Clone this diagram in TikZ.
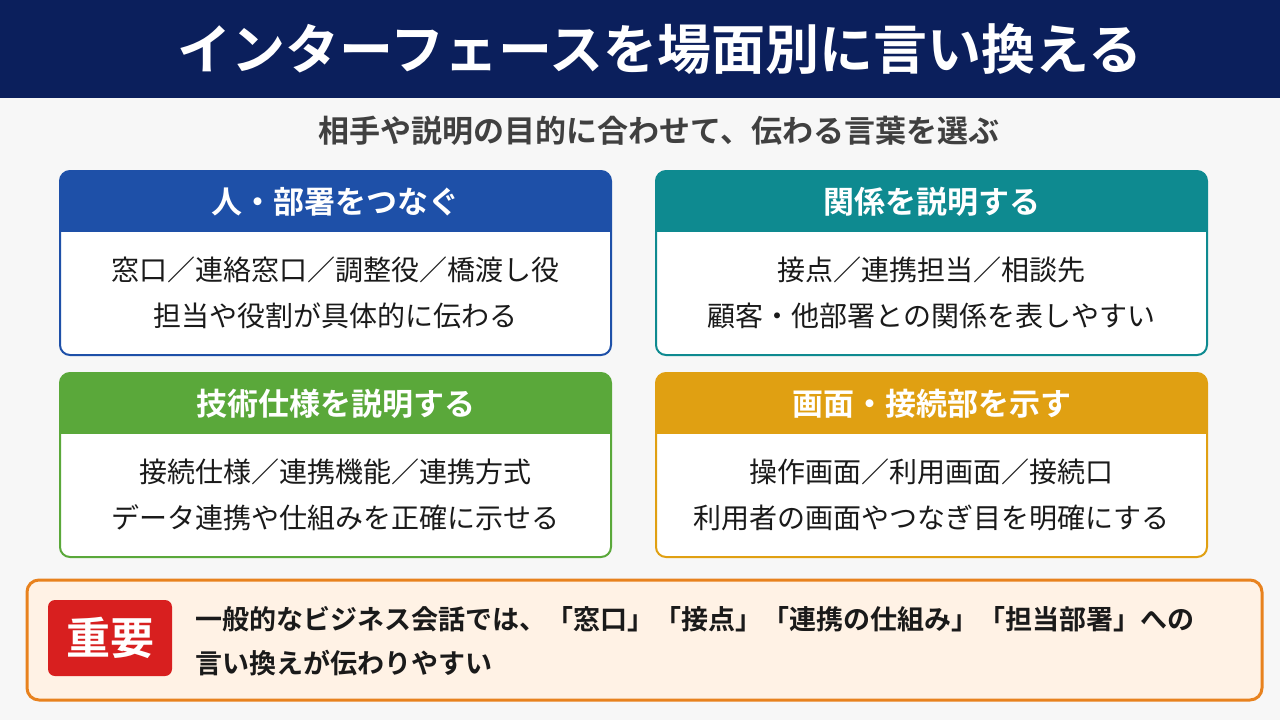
\documentclass[tikz,border=0pt]{standalone}
\usepackage{fontspec}
\setmainfont{Noto Sans CJK JP}[BoldFont={Noto Sans CJK JP Bold}]
\definecolor{navy}{HTML}{0B1F5C}
\definecolor{cblue}{HTML}{1E50A8}
\definecolor{cteal}{HTML}{0E8A90}
\definecolor{cgreen}{HTML}{5AA83A}
\definecolor{cgold}{HTML}{E0A012}
\definecolor{corange}{HTML}{E8821E}
\definecolor{cred}{HTML}{D81F1F}
\definecolor{txt}{HTML}{1A1A1A}
\tikzset{
  x=1pt,y=-1pt,
  card/.style={draw=#1,line width=2pt,rounded corners=10pt},
  head/.style={text=white,font=\bfseries\fontsize{31}{34}\selectfont},
  body/.style={text=txt,font=\fontsize{28}{46}\selectfont,align=center}
}
\newcommand\mycard[6]{%
  \fill[white,rounded corners=10pt] (#1,#2) rectangle (#1+551,#2+184);
  \begin{scope}
  \clip[rounded corners=10pt] (#1,#2) rectangle (#1+551,#2+184);
  \fill[#3] (#1,#2) rectangle (#1+551,#2+61);
  \end{scope}
  \draw[card=#3] (#1,#2) rectangle (#1+551,#2+184);
  \node[head] (h#6) at (#1+275.5,#2+31) {#4};
  \node[body] (b#6) at (#1+275.5,#2+122) {#5};
}
\begin{document}
\begin{tikzpicture}
\fill[white!97!black] (0,0) rectangle (1280,720);
\fill[navy] (0,0) rectangle (1280,98);
\node[text=white,font=\bfseries\fontsize{54}{58}\selectfont] (title) at (660,49) {インターフェースを場面別に言い換える};
\node[text=black!75,font=\bfseries\fontsize{31}{34}\selectfont] (sub) at (659,131) {相手や説明の目的に合わせて、伝わる言葉を選ぶ};
\mycard{60}{171}{cblue}{人・部署をつなぐ}{窓口／連絡窓口／調整役／橋渡し役\\担当や役割が具体的に伝わる}{1}
\mycard{656}{171}{cteal}{関係を説明する}{接点／連携担当／相談先\\顧客・他部署との関係を表しやすい}{2}
\mycard{60}{373}{cgreen}{技術仕様を説明する}{接続仕様／連携機能／連携方式\\データ連携や仕組みを正確に示せる}{3}
\mycard{656}{373}{cgold}{画面・接続部を示す}{操作画面／利用画面／接続口\\利用者の画面やつなぎ目を明確にする}{4}
\draw[draw=corange,line width=3pt,fill=orange!10!white,rounded corners=12pt] (27,580) rectangle (1262,700);
\node[fill=cred,rounded corners=7pt,minimum width=124pt,minimum height=76pt,text=white,font=\bfseries\fontsize{44}{46}\selectfont] (imp) at (110,638) {重要};
\node[anchor=west,align=left,text=txt,font=\bfseries\fontsize{27}{44}\selectfont] (note) at (192,641) {一般的なビジネス会話では、「窓口」「接点」「連携の仕組み」「担当部署」への\\言い換えが伝わりやすい};
\end{tikzpicture}
\end{document}
